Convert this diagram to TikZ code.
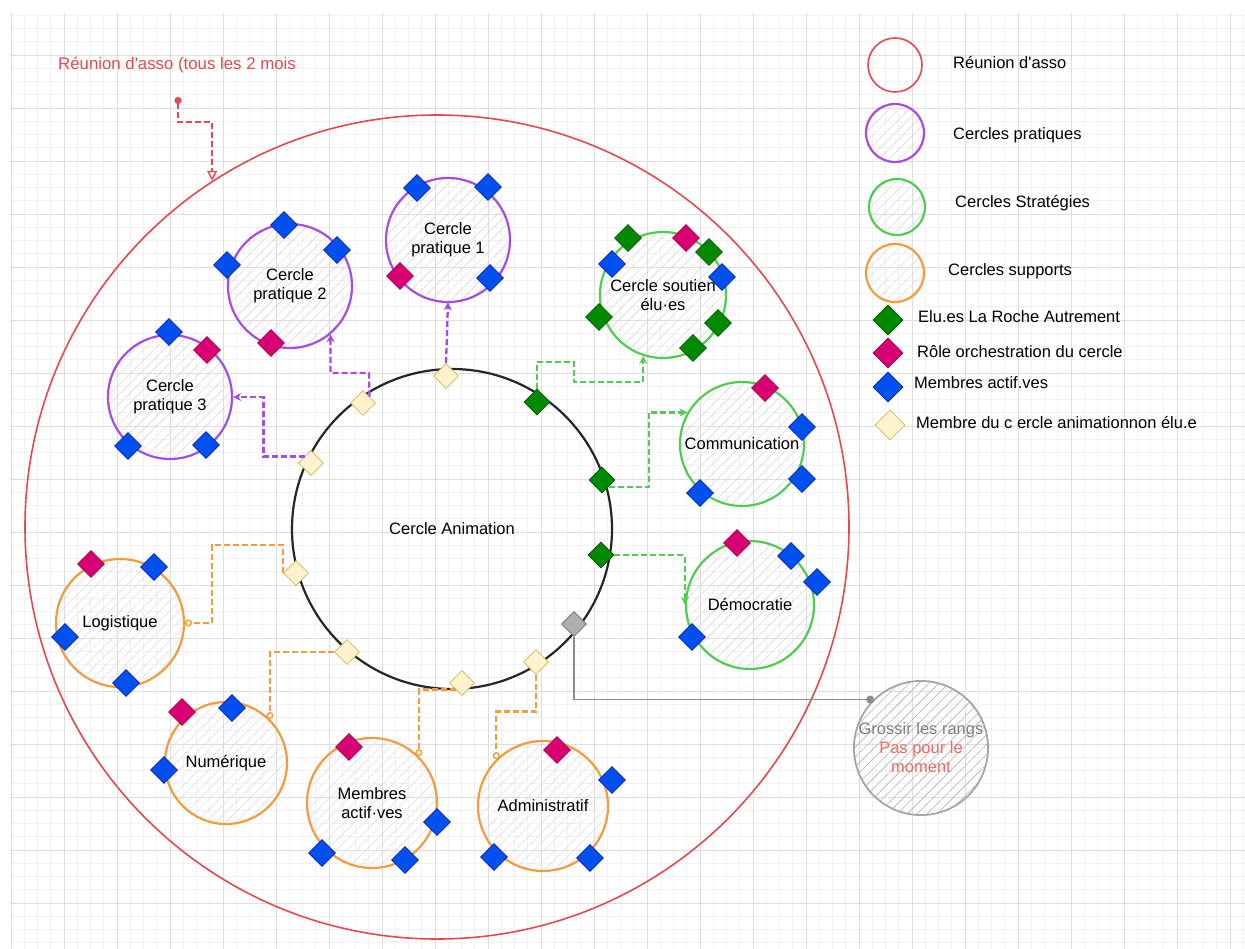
\documentclass[tikz,border=0pt]{standalone}
\usepackage{fontspec}
\setmainfont{Liberation Sans}[Ligatures=TeXOff]
\usetikzlibrary{shapes.geometric,arrows.meta,patterns.meta,calc}
\definecolor{redC}{RGB}{232,70,80}
\definecolor{redT}{RGB}{234,107,102}
\definecolor{purpleC}{RGB}{163,77,232}
\definecolor{greenC}{RGB}{80,205,80}
\definecolor{orangeC}{RGB}{245,155,60}
\definecolor{dGreen}{HTML}{008A00}
\definecolor{dGreenB}{HTML}{005700}
\definecolor{magC}{HTML}{D80073}
\definecolor{magB}{HTML}{A50040}
\definecolor{blueC}{HTML}{0050EF}
\definecolor{blueB}{HTML}{001DBC}
\definecolor{yelC}{HTML}{FFF2CC}
\definecolor{yelB}{HTML}{D6B656}
\definecolor{grayF}{HTML}{AEAEAE}
\definecolor{grayB}{HTML}{5C7A5C}
\tikzset{
  minorgrid/.style={draw=black!5, line width=0.6pt},
  majorgrid/.style={draw=black!13, line width=0.8pt},
  txt/.style={font=\fontsize{16.5}{19}\selectfont, align=center, inner sep=0pt},
  circ/.style={circle, draw, line width=2.2pt, inner sep=0pt, txt,
     pattern={Lines[angle=45,distance=7pt,line width=0.5pt]}, pattern color=black!16},
  pcirc/.style={circ, draw=purpleC},
  gcirc/.style={circ, draw=greenC},
  ocirc/.style={circ, draw=orangeC, pattern color=blue!30!black!14},
  dia/.style={diamond, draw, line width=0.8pt, minimum size=27pt, inner sep=0pt},
  dB/.style={dia, fill=blueC, draw=blueB},
  dM/.style={dia, fill=magC, draw=magB},
  dG/.style={dia, fill=dGreen, draw=dGreenB},
  dY/.style={dia, fill=yelC, draw=yelB, minimum size=25pt},
  conn/.style={line width=2.3pt, dash pattern=on 6pt off 3pt},
  rconn/.style={conn, draw=redC, {Circle[length=7pt,width=7pt]}-{Triangle[open,length=10pt,width=10pt,line width=1.4pt]}},
  pconn/.style={conn, draw=purpleC, -{Stealth[length=8pt,width=8pt]}},
  gconn/.style={conn, draw=greenC, -{Stealth[length=8pt,width=8pt]}},
  oconn/.style={conn, draw=orangeC, -{Circle[open,length=7pt,width=7pt,fill=white,line width=1.4pt]}},
  grconn/.style={line width=1.5pt, draw=black!45, -{Circle[length=8pt,width=8pt]}},
  legtxt/.style={font=\fontsize{16.5}{19}\selectfont, anchor=west, inner sep=0pt},
}
\begin{document}
\begin{tikzpicture}[x=1pt,y=-1pt]
\useasboundingbox (0,0) rectangle (1245,949);
\fill[white] (0,0) rectangle (1245,949);
% grid
\begin{scope}
\clip (10,13) rectangle (1245,949);
\foreach \i in {0,...,93} \draw[minorgrid] ({11+13.25*\i},13) -- ({11+13.25*\i},949);
\foreach \i in {1,...,71} \draw[minorgrid] (10,{2+13.25*\i}) -- (1245,{2+13.25*\i});
\foreach \i in {0,...,23} \draw[majorgrid] ({11+53*\i},13) -- ({11+53*\i},949);
\foreach \i in {1,...,17} \draw[majorgrid] (10,{2+53*\i}) -- (1245,{2+53*\i});
\end{scope}

% big meeting circle
\node[circle, draw=redC, line width=1.6pt, minimum size=824pt, inner sep=0pt] (asso) at (437,527) {};
\node[font=\fontsize{16.8}{19}\selectfont, text=redC, inner sep=0pt] (title) at (177,65) {Réunion d'asso (tous les 2 mois};
\coordinate (tstart) at (178,97);

% central circle
\node[circle, draw=black!85, line width=2.2pt, minimum size=320pt, inner sep=0pt, txt] (anim) at (452,529) {Cercle Animation};

% practical circles
\node[pcirc, minimum size=124pt] (cp1) at (448,240) {Cercle\\pratique 1};
\node[pcirc, minimum size=124pt] (cp2) at (290,286) {Cercle\\pratique 2};
\node[pcirc, minimum size=124pt] (cp3) at (170,397) {Cercle\\pratique 3};
% strategy circles
\node[gcirc, minimum size=126pt] (cs) at (663,295) {Cercle soutien\\élu·es};
\node[gcirc, minimum size=124pt] (comm) at (742,444) {Communication};
\node[gcirc, minimum size=128pt] (dem) at (750,605) {Démocratie};
% support circles
\node[ocirc, minimum size=128pt] (log) at (120,623) {Logistique};
\node[ocirc, minimum size=122pt] (num) at (226,763) {Numérique};
\node[ocirc, minimum size=130pt] (mem) at (372,803) {Membres\\actif·ves};
\node[ocirc, minimum size=130pt] (adm) at (543,806) {Administratif};
% gray circle
\node[circle, draw=black!35, line width=1.8pt, minimum size=132pt, inner sep=0pt,
  pattern={Lines[angle=45,distance=7pt,line width=0.6pt]}, pattern color=black!30,
  txt] (gc) at (921,748) {\textcolor{black!50}{Grossir les rangs}\\\textcolor{redT}{Pas pour le}\\\textcolor{redT}{moment}};

% animation circle members
\node[dY] (y1) at (446,376) {};
\node[dY] (y2) at (363,403) {};
\node[dY] (y3) at (311,463) {};
\node[dY] (y4) at (296,573) {};
\node[dY] (y5) at (347,652) {};
\node[dY] (y6) at (462,683) {};
\node[dY] (y7) at (536,662) {};
\node[dG, minimum size=26pt] (g1) at (537,402) {};
\node[dG, minimum size=26pt] (g2) at (602,480) {};
\node[dG, minimum size=26pt] (g3) at (601,555) {};
\node[dia, fill=grayF, draw=grayB, minimum size=25pt] (gd) at (574,624) {};

% connectors
\draw[rconn] (tstart) -- (178,122) -| (asso.123);
\draw[pconn] (y1.north) -- (cp1.south);
\draw[pconn] (y2.north east) -- (369,373) -| (cp2.-50);
\draw[pconn] (y3.north west) -- ++(-41,0) |- (cp3.east);
\draw[gconn] (g1.north) -- (537,362) -- (574,362) -- (574,382) -| (cs.-108);
\draw[gconn] (g2.south east) -- ++(40,0) |- (comm.150);
\draw[gconn] (g3.east) -| (dem.west);
\draw[grconn] (gd.south) |- (gc.134);
\draw[oconn] (y4.west) |- (212,545) |- (log.east);
\draw[oconn] (y5.west) -| (num.45);
\draw[oconn] (y6.south west) -| (mem.45);
\draw[oconn] (y7.south) -- ++(0,36.5) -| (adm.135);

% members on circles
\node[dB] (a1) at (417,188) {};
\node[dB] (a2) at (488,187) {};
\node[dB] (a3) at (490,278) {};
\node[dM] (a4) at (400,276) {};
\node[dB] (b1) at (284,225) {};
\node[dB] (b2) at (337,250) {};
\node[dB] (b3) at (227,265) {};
\node[dM] (b4) at (271,343) {};
\node[dB] (c1) at (169,332) {};
\node[dM] (c2) at (207,350) {};
\node[dB] (c3) at (128,446) {};
\node[dB] (c4) at (206,445) {};
\node[dG] (s1) at (628,238) {};
\node[dM] (s2) at (686,238) {};
\node[dG] (s3) at (709,252) {};
\node[dB] (s4) at (612,264) {};
\node[dB] (s5) at (722,277) {};
\node[dG] (s6) at (599,317) {};
\node[dG] (s7) at (718,323) {};
\node[dG] (s8) at (693,348) {};
\node[dM] (m1) at (765,388) {};
\node[dB] (m2) at (802,427) {};
\node[dB] (m3) at (802,479) {};
\node[dB] (m4) at (700,493) {};
\node[dM] (d1) at (737,543) {};
\node[dB] (d2) at (791,556) {};
\node[dB] (d3) at (817,582) {};
\node[dB] (d4) at (692,637) {};
\node[dM] (l1) at (91,564) {};
\node[dB] (l2) at (154,567) {};
\node[dB] (l3) at (65,637) {};
\node[dB] (l4) at (126,683) {};
\node[dM] (n1) at (182,712) {};
\node[dB] (n2) at (232,708) {};
\node[dB] (n3) at (164,770) {};
\node[dM] (e1) at (349,747) {};
\node[dB] (e2) at (437,822) {};
\node[dB] (e3) at (322,853) {};
\node[dB] (e4) at (405,860) {};
\node[dM] (f1) at (557,750) {};
\node[dB] (f2) at (612,780) {};
\node[dB] (f3) at (494,857) {};
\node[dB] (f4) at (590,858) {};

% legend
\node[circle, draw=redC, line width=1.6pt, minimum size=54pt, inner sep=0pt] (lr) at (895,65) {};
\node[pcirc, minimum size=58pt] (lp) at (895,133) {};
\node[gcirc, minimum size=56pt] (lg) at (897,207) {};
\node[ocirc, minimum size=58pt] (lo) at (895,273) {};
\node[legtxt] (lrt) at (953,63) {Réunion d'asso};
\node[legtxt] (lpt) at (953,135) {Cercles pratiques};
\node[legtxt] (lgt) at (955,203) {Cercles Stratégies};
\node[legtxt] (lot) at (948,271) {Cercles supports};
\node[dG, minimum size=30pt] (ld1) at (888,320) {};
\node[dM, minimum size=30pt] (ld2) at (888,353) {};
\node[dB, minimum size=30pt] (ld3) at (888,387) {};
\node[dY, minimum size=30pt] (ld4) at (890,425) {};
\node[legtxt] (ld1t) at (918,317) {Elu.es La Roche Autrement};
\node[legtxt] (ld2t) at (917,352) {Rôle orchestration du cercle};
\node[legtxt] (ld3t) at (914,383) {Membres actif.ves};
\node[legtxt] (ld4t) at (916,423) {Membre du c ercle animationnon élu.e};
\end{tikzpicture}
\end{document}
